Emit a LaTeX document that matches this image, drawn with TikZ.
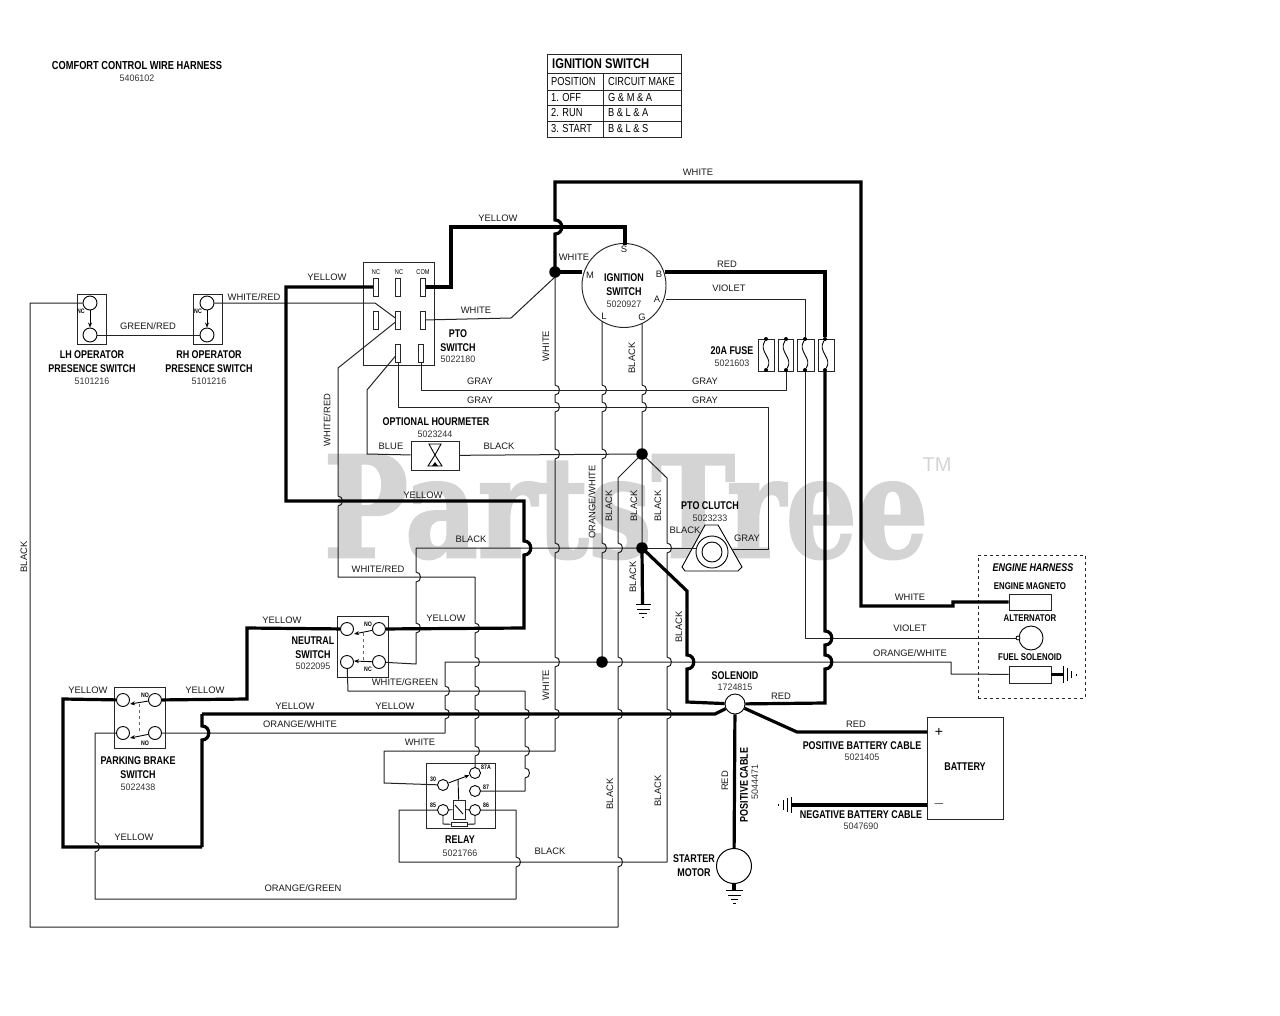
\documentclass[tikz,border=0pt]{standalone}
\usepackage{fontspec}
\setmainfont{Liberation Sans}
\newfontfamily\condfont[FakeStretch=0.8]{Liberation Sans}
\newfontfamily\numfont[FakeStretch=0.95]{Liberation Sans}
\newfontfamily\markfont[FakeBold=2]{DejaVu Serif}
\usetikzlibrary{arrows.meta,positioning,calc}
\definecolor{wiregray}{HTML}{222222}
\definecolor{markgray}{HTML}{D4D4D4}
% wire jump over a crossing, always written top to bottom
\newcommand{\hop}[2]{-- (#1,#2-5) .. controls (#1+6,#2-5) and (#1+6,#2+5) .. (#1,#2+5)}
\newcommand{\bighop}[2]{-- (#1,#2-7) .. controls (#1+9,#2-7) and (#1+9,#2+7) .. (#1,#2+7)}
\begin{document}
\begin{tikzpicture}[
  x=1pt, y=-1pt,
  thinw/.style={draw=wiregray, line width=1pt, line join=round},
  thickw/.style={draw=black, line width=3.2pt, line join=miter},
  box/.style={draw=black!85, line width=0.95pt, inner sep=0pt},
  term/.style={circle, draw=black, fill=white, line width=0.9pt, inner sep=0pt, minimum size=11.5pt},
  tab/.style={draw=black!85, line width=0.95pt, inner sep=0pt, minimum width=5pt, minimum height=18pt},
  blob/.style={circle, fill=black, inner sep=0pt, minimum size=11.5pt},
  fusedot/.style={circle, fill=black, inner sep=0pt, minimum size=4pt},
  wlabel/.style={font=\fontsize{9.4}{10}\selectfont, inner sep=0pt, text=black!90},
  partno/.style={font=\numfont\fontsize{9.4}{10}\selectfont, inner sep=0pt, text=black!80},
  title/.style={font=\condfont\bfseries\fontsize{11.2}{14}\selectfont, inner sep=0pt, align=center},
  pin/.style={font=\condfont\bfseries\fontsize{6.5}{7}\selectfont, inner sep=0pt},
  swtip/.style={-{Stealth[length=5pt,width=4pt]}, line width=0.9pt},
  cell/.style={font=\condfont\fontsize{11.6}{12}\selectfont, inner sep=0pt, anchor=west},
]
  \useasboundingbox (0,0) rectangle (1280,1015);
  % watermark
  \node[font=\markfont\bfseries\fontsize{140}{140}\selectfont, text=markgray, inner sep=0pt, xscale=0.8] (mark) at (626,507) {PartsTree};
  \node[font=\fontsize{20}{20}\selectfont, text=markgray, inner sep=0pt] (marktm) at (937,465) {TM};

  % Header
  \node[title, font=\condfont\bfseries\fontsize{11.6}{14}\selectfont] (harness) at (137,66) {COMFORT CONTROL WIRE HARNESS};
  \node[partno] (harnessno) at (137,78) {5406102};
  \node[box, minimum width=134pt, minimum height=83pt] (ignbox) at (614,95.5) {};
  \draw[box] (547,73) -- (681,73) (547,90) -- (681,90) (547,105) -- (681,105) (547,121) -- (681,121) (603,73) -- (603,137);
  \node[font=\condfont\bfseries\fontsize{14}{14}\selectfont, inner sep=0pt, anchor=west] (igntitle) at (552,64) {IGNITION SWITCH};
  \node[cell] (cpos) at (551,82) {POSITION};
  \node[cell] (ccirc) at (608,82) {CIRCUIT MAKE};
  \node[cell] (coff) at (551,98) {1. OFF};
  \node[cell] (cgma) at (608,98) {G \& M \& A};
  \node[cell] (crun) at (551,113) {2. RUN};
  \node[cell] (cbla) at (608,113) {B \& L \& A};
  \node[cell] (cstart) at (551,129) {3. START};
  \node[cell] (cbls) at (608,129) {B \& L \& S};

  % Operator presence switches
  \node[box, minimum width=29pt, minimum height=50pt] (lhbox) at (91.5,319) {};
  \node[box, minimum width=29pt, minimum height=50pt] (rhbox) at (207.5,319) {};
  \node[term, minimum size=14pt] (lhu) at (90,303) {};
  \node[term, minimum size=14pt] (lhl) at (90,335) {};
  \node[term, minimum size=14pt] (rhu) at (207,303) {};
  \node[term, minimum size=14pt] (rhl) at (207,335) {};
  \draw[swtip] (lhu) -- (lhl);
  \draw[swtip] (rhu) -- (rhl);
  \node[pin] (lhnc) at (81,311) {NC};
  \node[pin] (rhnc) at (198,311) {NC};
  \node[title] (lhname) at (92,362) {LH OPERATOR\\PRESENCE SWITCH};
  \node[partno] (lhno) at (92,381) {5101216};
  \node[title] (rhname) at (209,362) {RH OPERATOR\\PRESENCE SWITCH};
  \node[partno] (rhno) at (209,381) {5101216};

  % PTO switch
  \node[box, minimum width=71pt, minimum height=103pt] (ptobox) at (398.5,314) {};
  \node[tab] (ptoa) at (376,287) {};
  \node[tab] (ptob) at (398,287) {};
  \node[tab] (ptoc) at (423,287) {};
  \node[tab] (ptod) at (376,320) {};
  \node[tab] (ptoe) at (398,320) {};
  \node[tab] (ptof) at (423,320) {};
  \node[tab] (ptog) at (398,353) {};
  \node[tab] (ptoh) at (421,353) {};
  \node[pin, font=\condfont\fontsize{7}{7}\selectfont] (ptonc1) at (376,272) {NC};
  \node[pin, font=\condfont\fontsize{7}{7}\selectfont] (ptonc2) at (399,272) {NC};
  \node[pin, font=\condfont\fontsize{7}{7}\selectfont] (ptocom) at (423,272) {COM};
  \node[title] (ptoname) at (458,340.5) {PTO\\SWITCH};
  \node[partno] (ptono) at (458,359) {5022180};

  % Ignition switch
  \node[circle, draw=black!85, line width=0.95pt, inner sep=0pt, minimum size=84pt] (ign) at (624,285.5) {};
  \coordinate (igns) at (625,245);
  \coordinate (ignm) at (582,272);
  \coordinate (ignb) at (665,272);
  \coordinate (igna) at (666,299);
  \coordinate (ignl) at (602,321);
  \coordinate (igng) at (642,323);
  \node[wlabel] (pins) at (624,249) {S};
  \node[wlabel] (pinm) at (590,275) {M};
  \node[wlabel] (pinb) at (659,274) {B};
  \node[wlabel] (pina) at (657,299) {A};
  \node[wlabel] (pinl) at (604,316) {L};
  \node[wlabel] (ping) at (642,317) {G};
  \node[title] (ignname) at (624,285) {IGNITION\\SWITCH};
  \node[partno] (ignno) at (624,304) {5020927};

  % Fuses
  \node[box, minimum width=16pt, minimum height=32pt] (fa) at (766,355) {};
  \node[box, minimum width=15pt, minimum height=32pt] (fb) at (785.5,355) {};
  \node[box, minimum width=17pt, minimum height=32pt] (fc) at (806,355) {};
  \node[box, minimum width=16pt, minimum height=32pt] (fd) at (826,355) {};
  \node[fusedot] (fat) at (766,339) {};
  \node[fusedot] (fab) at (766,370) {};
  \node[fusedot] (fbt) at (786,339) {};
  \node[fusedot] (fbb) at (786,370) {};
  \node[fusedot] (fct) at (805,339) {};
  \node[fusedot] (fcb) at (805,370) {};
  \node[fusedot] (fdt) at (825,339) {};
  \node[fusedot] (fdb) at (825,370) {};
  \draw[line width=0.9pt] (fat) .. controls (758,352) and (774,358) .. (fab);
  \draw[line width=0.9pt] (fbt) .. controls (778,352) and (794,358) .. (fbb);
  \draw[line width=0.9pt] (fct) .. controls (797,352) and (813,358) .. (fcb);
  \draw[line width=0.9pt] (fdt) .. controls (817,352) and (833,358) .. (fdb);
  \node[title] (fusename) at (732,351) {20A FUSE};
  \node[partno] (fuseno) at (732,363) {5021603};

  % Hourmeter
  \node[box, minimum width=48pt, minimum height=29pt] (hourm) at (435,455.5) {};
  \draw[line width=0.9pt] (429,444) -- (441,444) -- (435,455) -- (442,466) -- (428,466) -- (435,455) -- cycle;
  \fill (432,466) -- (435,462) -- (438,466) -- cycle;
  \node[title] (hourname) at (436,422) {OPTIONAL HOURMETER};
  \node[partno] (hourno) at (435,434) {5023244};

  % PTO clutch
  \draw[line width=0.9pt, fill=white] (705,525) -- (718,525) -- (742,567) -- (738,571) -- (685,571) -- (682,567) -- cycle;
  \draw[line width=0.9pt] (712,552) circle[radius=16] (712,552) circle[radius=10];
  \coordinate (clutchl) at (697,548);
  \coordinate (clutchr) at (733,549);
  \node[title] (clutchname) at (710,506) {PTO CLUTCH};
  \node[partno] (clutchno) at (710,518) {5023233};

  % Neutral switch
  \node[box, minimum width=51pt, minimum height=61pt] (ntbox) at (362.5,646.5) {};
  \node[term, minimum size=13pt] (ntul) at (347,629) {};
  \node[term, minimum size=13pt] (ntur) at (379,629) {};
  \node[term, minimum size=13pt] (ntll) at (347,662) {};
  \node[term, minimum size=13pt] (ntlr) at (379,662) {};
  \draw[swtip] (ntur) -- (354,634);
  \draw[swtip] (ntlr) -- (354,661);
  \draw[dashed, black!60, line width=0.8pt] (363,633) -- (363,660);
  \node[pin] (ntno) at (368,624) {NO};
  \node[pin] (ntnc) at (368,669) {NC};
  \node[title] (ntname) at (313,647.5) {NEUTRAL\\SWITCH};
  \node[partno] (ntpart) at (313,666) {5022095};

  % Parking brake switch
  \node[box, minimum width=51pt, minimum height=61pt] (pbbox) at (139.5,717.5) {};
  \node[term, minimum size=13pt] (pbul) at (123,700) {};
  \node[term, minimum size=13pt] (pbur) at (155,700) {};
  \node[term, minimum size=13pt] (pbll) at (123,733) {};
  \node[term, minimum size=13pt] (pblr) at (155,733) {};
  \draw[swtip] (pbur) -- (130,704);
  \draw[swtip] (pblr) -- (130,738);
  \draw[dashed, black!60, line width=0.8pt] (139,704) -- (139,733);
  \node[pin] (pbno) at (145,695) {NO};
  \node[pin] (pbnc) at (145,743) {NO};
  \node[title] (pbname) at (138,768) {PARKING BRAKE\\SWITCH};
  \node[partno] (pbpart) at (138,787) {5022438};

  % Relay
  \node[box, minimum width=69pt, minimum height=65pt] (relbox) at (460.5,795.5) {};
  \node[term, minimum size=11pt] (rel30) at (443,785) {};
  \node[term, minimum size=11pt] (relb) at (475,773) {};
  \node[term, minimum size=11pt] (relc) at (475,791) {};
  \node[term, minimum size=11pt] (rel85) at (443,810) {};
  \node[term, minimum size=11pt] (rel86) at (475,810) {};
  \node[box, minimum width=12pt, minimum height=19pt] (coil) at (459,809.5) {};
  \node[box, fill=white, minimum width=16pt, minimum height=4pt] (relres) at (459,824.5) {};
  \draw[swtip] (rel30) -- (relb);
  \draw[line width=0.9pt] (458,779) -- (coil);
  \draw[line width=0.9pt] (455,805) -- (463,814);
  \draw[line width=0.9pt] (rel85) -- (coil);
  \draw[line width=0.9pt] (rel86) -- (coil);
  \draw[line width=0.9pt] (rel85) -- (443,824) -- (relres);
  \draw[line width=0.9pt] (rel86) -- (475,824) -- (relres);
  \node[pin] (pin30) at (433,779) {30};
  \node[pin] (pin87a) at (486,767) {87A};
  \node[pin] (pin87) at (486,787) {87};
  \node[pin] (pin85) at (433,805) {85};
  \node[pin] (pin86) at (486,805) {86};
  \node[title] (relname) at (460,840) {RELAY};
  \node[partno] (relno) at (460,853) {5021766};

  % Solenoid, starter, battery
  \node[circle, draw=black, fill=white, line width=0.9pt, inner sep=0pt, minimum size=20pt] (sol) at (735,704) {};
  \node[title] (solname) at (735,676) {SOLENOID};
  \node[partno] (solno) at (735,687) {1724815};
  \node[circle, draw=black, line width=1pt, inner sep=0pt, minimum size=35pt] (motor) at (734,866) {};
  \node[title] (motorname) at (694,865.5) {STARTER\\MOTOR};
  \node[box, minimum width=76pt, minimum height=102pt] (batt) at (965,768) {};
  \node[title] (battname) at (965,767) {BATTERY};
  \node[font=\fontsize{14}{14}\selectfont, inner sep=0pt] (plus) at (939,732) {+};
  \node[font=\fontsize{14}{14}\selectfont, inner sep=0pt] (minus) at (939,804) {$-$};
  \coordinate (battp) at (927,732);
  \coordinate (battm) at (927,805);

  % Engine harness
  \node[draw=black!85, dashed, line width=0.95pt, minimum width=107pt, minimum height=143pt, inner sep=0pt] (enginebox) at (1031.5,626.5) {};
  \node[font=\condfont\bfseries\itshape\fontsize{11.2}{12}\selectfont, inner sep=0pt] (enginename) at (1033,568) {ENGINE HARNESS};
  \node[title, font=\condfont\bfseries\fontsize{9.8}{10}\selectfont] (magname) at (1030,586) {ENGINE MAGNETO};
  \node[title, font=\condfont\bfseries\fontsize{9.8}{10}\selectfont] (altname) at (1030,618) {ALTERNATOR};
  \node[title, font=\condfont\bfseries\fontsize{9.8}{10}\selectfont] (fuelname) at (1030,657) {FUEL SOLENOID};
  \node[box, minimum width=42pt, minimum height=16pt] (magneto) at (1030,602) {};
  \node[circle, draw=black, line width=0.9pt, inner sep=0pt, minimum size=24pt] (alt) at (1031,638) {};
  \node[circle, draw=black, fill=white, line width=0.8pt, inner sep=0pt, minimum size=4pt] (altp) at (1018,638) {};
  \node[box, minimum width=42pt, minimum height=17pt] (fuel) at (1030,674.5) {};

  % Thin wires
  \draw[thinw] (lhl) -- (rhl);
  \draw[thinw] (rhu) -- (375,303) -- (ptoe);
  \draw[thinw] (ptof) -- (511,318) -- (555,277);
  \draw[thinw] (ptoh) -- (421,390) -- (786,390) -- (fbb);
  \draw[thinw] (ptog) -- (398,407) -- (768,407) -- (768,549) -- (clutchr);
  \draw[thinw] (ptog) -- (367,390) -- (367,454) -- (hourm);
  \draw[thinw] (hourm) -- (642,454);
  \draw[thinw] (642,548) -- (clutchl);
  \draw[thinw] (ptoe) -- (338,368) \hop{338}{501} -- (338,577) -- (475,577) \hop{475}{628} \hop{475}{662} \hop{475}{691} \hop{475}{714} \hop{475}{751} -- (relb);
  \draw[thinw] (555,272) \hop{555}{390} \hop{555}{407} \hop{555}{454} \hop{555}{548} \hop{555}{662} \hop{555}{714} -- (555,751) -- (384,751) -- (384,783) -- (rel30);
  \draw[thinw] (ignl) \hop{602}{390} \hop{602}{407} \hop{602}{454} \hop{602}{548} -- (602,662);
  \draw[thinw] (igng) \hop{642}{390} \hop{642}{407} -- (642,454) -- (642,548);
  \draw[thinw] (642,454) -- (618,478) \hop{618}{548} \hop{618}{662} \hop{618}{714} \hop{618}{862} -- (618,927) -- (30,927) -- (30,303) -- (lhu);
  \draw[thinw] (642,454) -- (667,478) \hop{667}{548} \hop{667}{662} \hop{667}{714} -- (667,862) -- (399,862) -- (399,810) -- (rel85);
  \draw[thinw] (642,548) -- (416,548) \hop{416}{577} \hop{416}{628} -- (416,664) -- (ntlr);
  \draw[thinw] (ntll) -- (348,691) -- (525,691) \hop{525}{714} \hop{525}{751} \hop{525}{773} -- (525,791) -- (relc);
  \draw[thinw] (fuel) -- (951,674) -- (951,662) -- (445,662) \hop{445}{691} \hop{445}{714} -- (445,733) -- (pblr);
  \draw[thinw] (pbll) -- (95,733) \hop{95}{847} -- (95,899) -- (516,899);
  \draw[thinw] (rel86) -- (516,810) \hop{516}{862} -- (516,899);
  \draw[thinw] (igna) -- (805,299) -- (fct);
  \draw[thinw] (fcb) -- (805,638) -- (altp);

  % Thick wires
  \draw[thickw] (magneto) -- (953,602) -- (953,606) -- (861,606) -- (861,182) -- (555,182) \bighop{555}{227} -- (555,272);
  \draw[thickw] (555,272) -- (ignm);
  \draw[thickw] (ptoc) -- (451,287) -- (451,227) -- (625,227) -- (igns);
  \draw[thickw] (ptoa) -- (286,287) -- (286,501) -- (524,501) \bighop{524}{548} -- (524,628) -- (ntur);
  \draw[thickw] (ntul) -- (247,628) -- (247,699) -- (pbur);
  \draw[thickw] (pbul) -- (63,699) -- (63,847) -- (202,847);
  \draw[thickw] (202,714) \bighop{202}{733} -- (202,847);
  \draw[thickw] (202,714) -- (715,714) -- (sol);
  \draw[thickw] (ignb) -- (825,272) -- (fdt);
  \draw[thickw] (fdb) \bighop{825}{638} \bighop{825}{662} -- (825,703) -- (sol);
  \draw[thickw] (642,548) -- (687,591) \bighop{687}{662} -- (687,702) -- (sol);
  \draw[thickw] (sol) -- (797,732) -- (battp);
  \draw[thickw] (sol) -- (motor);
  \draw[thickw] (fuel) -- (1063,674.5);
  \coordinate (negend) at (791,805);
  \draw[thickw] (battm) -- (negend);
  \coordinate (pcgnd) at (642.5,604);
  \draw[thickw] (642,548) -- (pcgnd);
  \coordinate (motgnd) at (734,890);
  \draw[thickw] (motor) -- (motgnd);

  % Junction dots
  \node[blob] (jm) at (555,272) {};
  \node[blob] (jg) at (642,454) {};
  \node[blob] (jc) at (642,548) {};
  \node[blob] (jl) at (602,662) {};

  % Grounds
  \draw[line width=0.9pt] (636,604) -- (651,604) (637,609) -- (650,609) (639,613) -- (647,613) (642,617) -- (644,617);
  \draw[line width=0.9pt] (726,890) -- (743,890) (728,895) -- (741,895) (731,899) -- (738,899) (733,903) -- (736,903);
  \draw[line width=0.9pt] (791,797) -- (791,813) (787,798) -- (787,812) (783,800) -- (783,810) (778,804) -- (778,806);
  \draw[line width=0.9pt] (1063,666) -- (1063,683) (1067,668) -- (1067,681) (1071,671) -- (1071,678) (1076,674) -- (1076,676);

  % Wire labels
  \node[wlabel] (l1) at (698,172) {WHITE};
  \node[wlabel] (l2) at (498,218) {YELLOW};
  \node[wlabel] (l3) at (327,277) {YELLOW};
  \node[wlabel] (l4) at (574,257) {WHITE};
  \node[wlabel] (l5) at (727,264) {RED};
  \node[wlabel] (l6) at (729,288) {VIOLET};
  \node[wlabel] (l7) at (476,310) {WHITE};
  \node[wlabel] (l8) at (254,297) {WHITE/RED};
  \node[wlabel] (l9) at (148,326) {GREEN/RED};
  \node[wlabel, rotate=90] (l10) at (546,346) {WHITE};
  \node[wlabel, rotate=90] (l11) at (632,358) {BLACK};
  \node[wlabel, rotate=90] (l12) at (327,420) {WHITE/RED};
  \node[wlabel] (l13) at (480,381) {GRAY};
  \node[wlabel] (l14) at (705,381) {GRAY};
  \node[wlabel] (l15) at (480,400) {GRAY};
  \node[wlabel] (l16) at (705,400) {GRAY};
  \node[wlabel] (l17) at (391,446) {BLUE};
  \node[wlabel] (l18) at (499,446) {BLACK};
  \node[wlabel] (l19) at (423,495) {YELLOW};
  \node[wlabel] (l20) at (471,539) {BLACK};
  \node[wlabel] (l21) at (378,569) {WHITE/RED};
  \node[wlabel] (l22) at (446,618) {YELLOW};
  \node[wlabel] (l23) at (282,620) {YELLOW};
  \node[wlabel] (l24) at (405,682) {WHITE/GREEN};
  \node[wlabel] (l25) at (88,690) {YELLOW};
  \node[wlabel] (l26) at (205,690) {YELLOW};
  \node[wlabel] (l27) at (295,706) {YELLOW};
  \node[wlabel] (l28) at (395,706) {YELLOW};
  \node[wlabel] (l29) at (300,724) {ORANGE/WHITE};
  \node[wlabel] (l30) at (420,742) {WHITE};
  \node[wlabel, rotate=90] (l31) at (546,685) {WHITE};
  \node[wlabel, rotate=90] (l32) at (592,502) {ORANGE/WHITE};
  \node[wlabel, rotate=90] (l33) at (609,506) {BLACK};
  \node[wlabel, rotate=90] (l34) at (634,506) {BLACK};
  \node[wlabel, rotate=90] (l35) at (658,506) {BLACK};
  \node[wlabel, rotate=90] (l36) at (633,577) {BLACK};
  \node[wlabel, rotate=90] (l37) at (679,627) {BLACK};
  \node[wlabel] (l38) at (685,530) {BLACK};
  \node[wlabel] (l39) at (747,538) {GRAY};
  \node[wlabel] (l40) at (781,696) {RED};
  \node[wlabel] (l41) at (856,724) {RED};
  \node[wlabel, rotate=90] (l42) at (725,781) {RED};
  \node[wlabel, rotate=90] (l43) at (610,794) {BLACK};
  \node[wlabel, rotate=90] (l44) at (658,791) {BLACK};
  \node[wlabel] (l45) at (550,851) {BLACK};
  \node[wlabel] (l46) at (134,837) {YELLOW};
  \node[wlabel] (l47) at (303,888) {ORANGE/GREEN};
  \node[wlabel, rotate=90] (l48) at (24,557) {BLACK};
  \node[wlabel] (l49) at (910,597) {WHITE};
  \node[wlabel] (l50) at (910,628) {VIOLET};
  \node[wlabel] (l51) at (910,653) {ORANGE/WHITE};

  % Cable names
  \node[title] (posname) at (862,746) {POSITIVE BATTERY CABLE};
  \node[partno] (posno) at (862,757) {5021405};
  \node[title] (negname) at (861,815) {NEGATIVE BATTERY CABLE};
  \node[partno] (negno) at (861,826) {5047690};
  \node[title, rotate=90] (cablename) at (744,785) {POSITIVE CABLE};
  \node[partno, rotate=90] (cableno) at (755,782) {5044471};
\end{tikzpicture}
\end{document}
